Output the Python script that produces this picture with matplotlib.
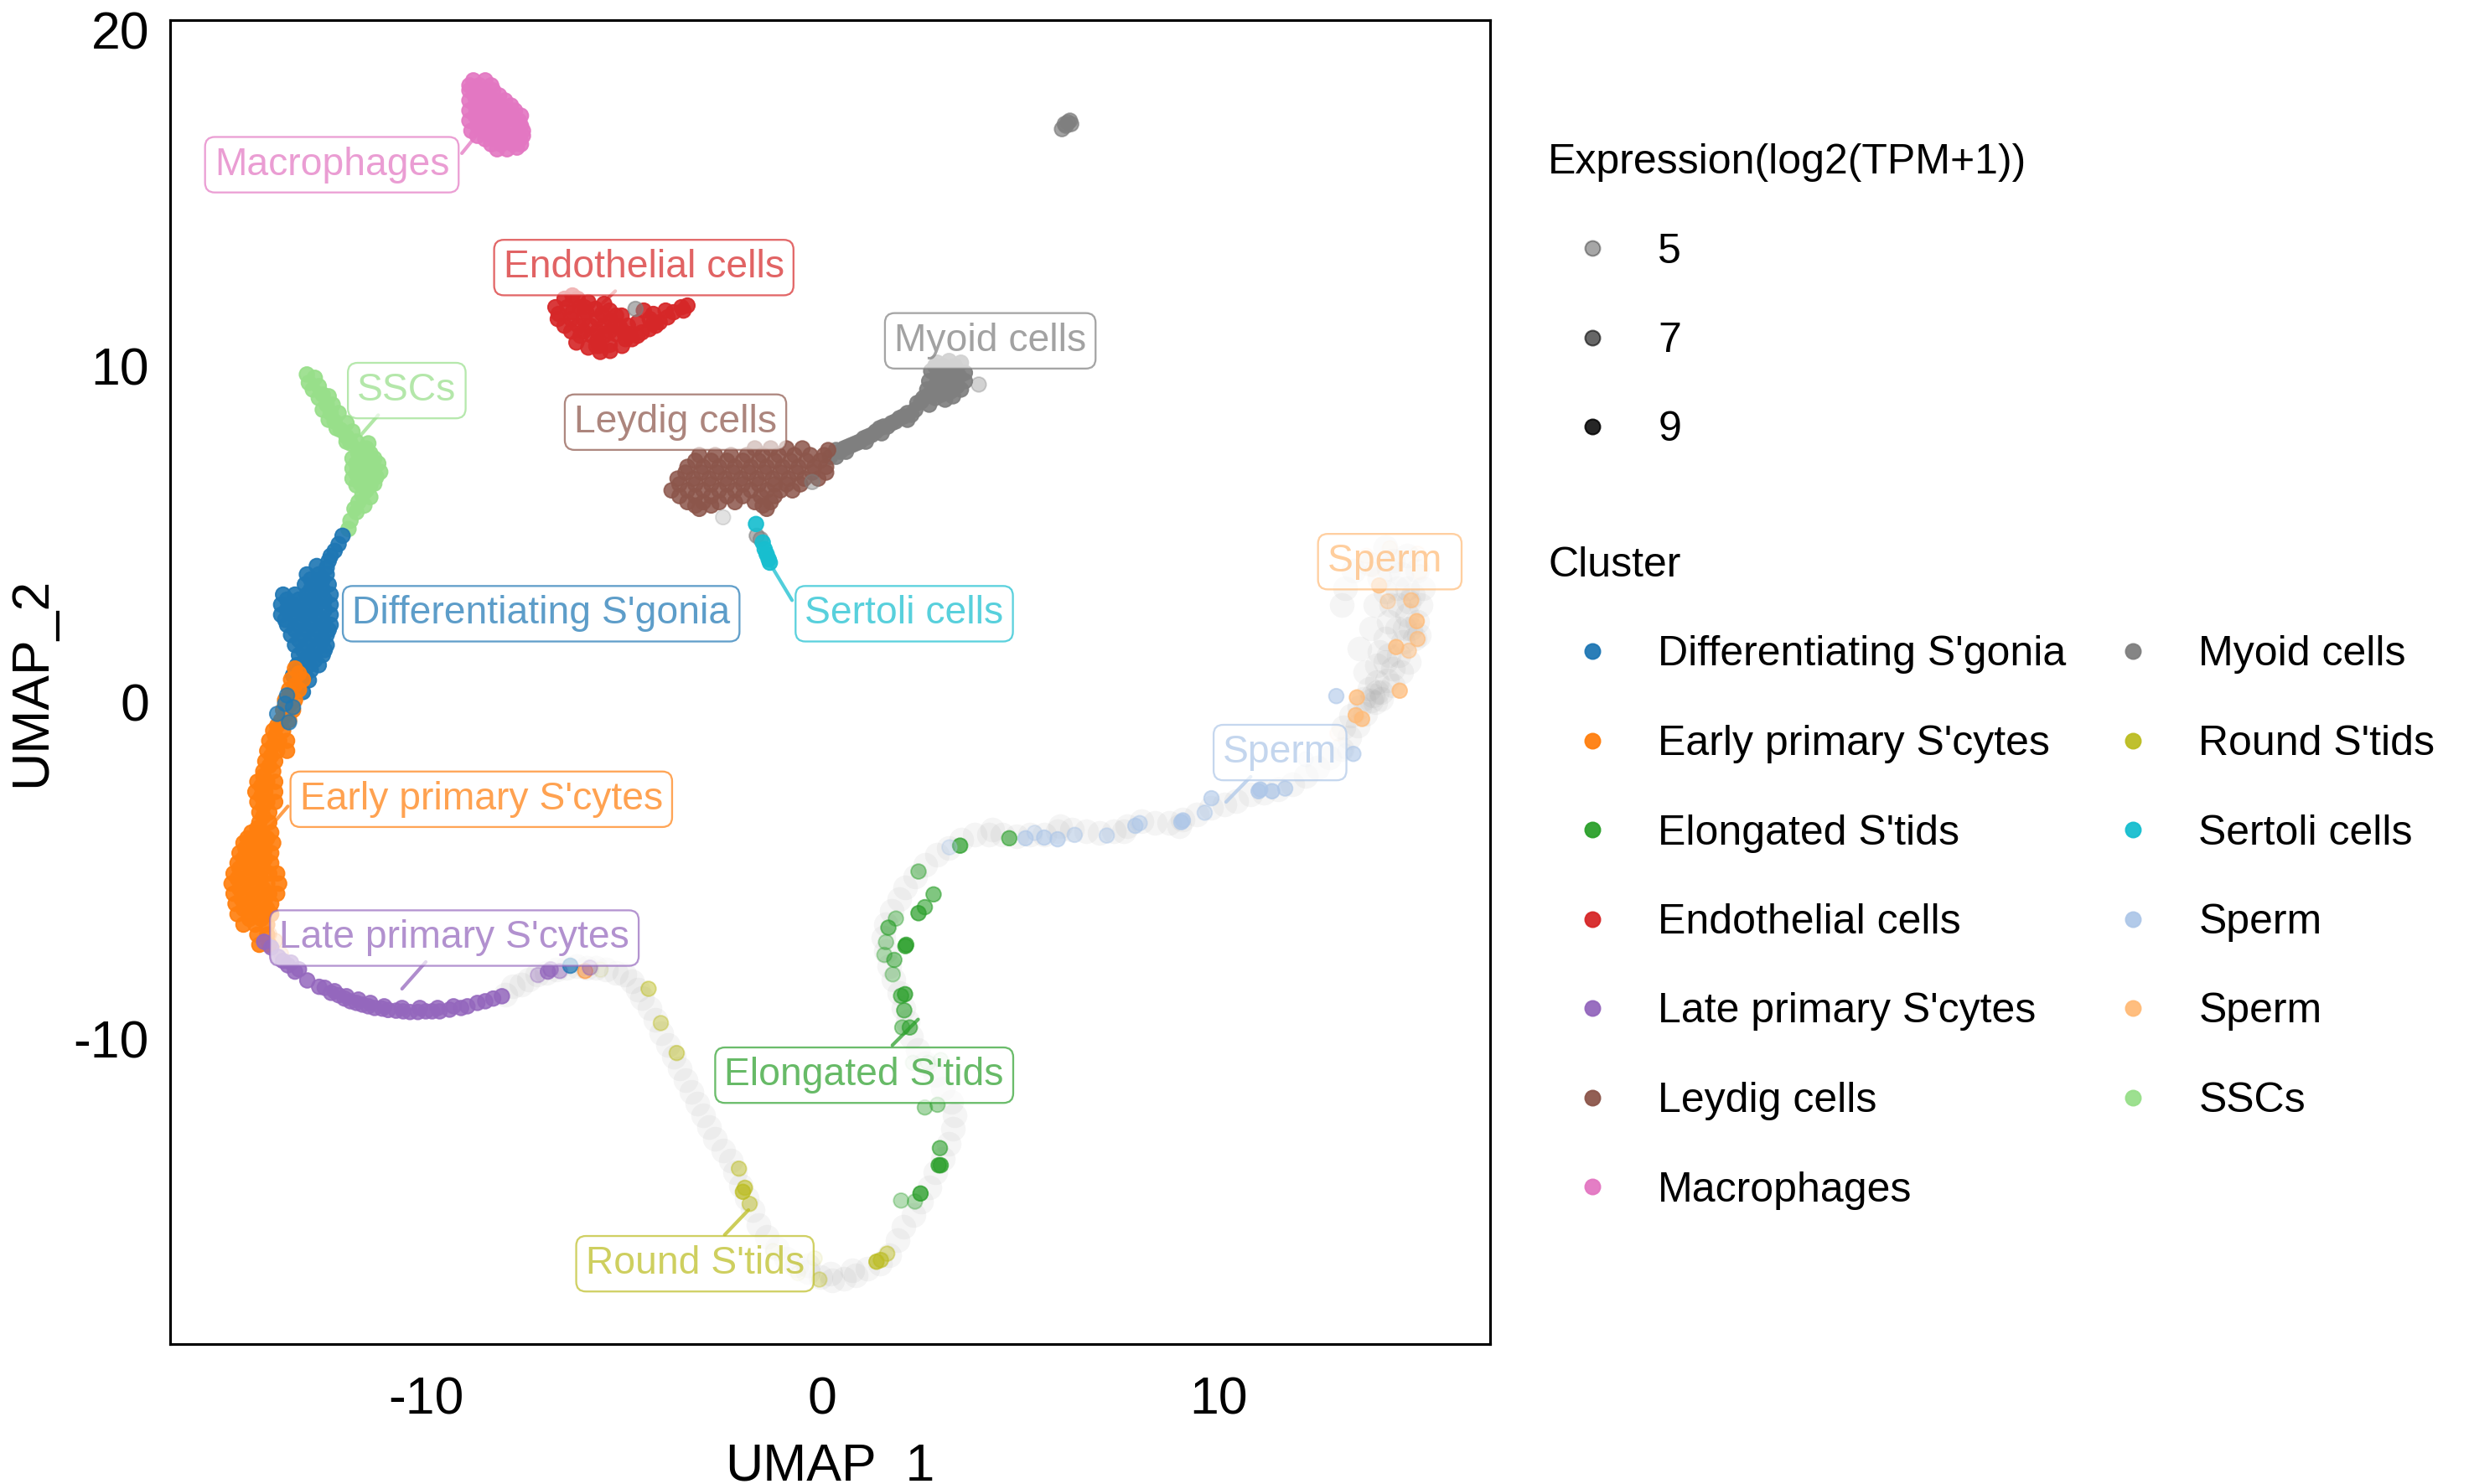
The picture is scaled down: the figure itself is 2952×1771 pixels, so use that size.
import matplotlib
matplotlib.use("Agg")
import matplotlib.pyplot as plt
from matplotlib.colors import to_rgba
from matplotlib.lines import Line2D

plt.rcParams['font.family'] = ['Liberation Sans', 'DejaVu Sans']
plt.rcParams['axes.unicode_minus'] = False

colors = {
    "Differentiating S'gonia": '#1f77b4', "Early primary S'cytes": '#ff7f0e',
    "Elongated S'tids": '#2ca02c', "Endothelial cells": '#d62728',
    "Late primary S'cytes": '#9467bd', "Leydig cells": '#8c564b',
    "Macrophages": '#e377c2', "Myoid cells": '#7f7f7f',
    "Round S'tids": '#bcbd22', "Sertoli cells": '#17becf',
    "SpermA": '#aec7e8', "SpermB": '#ffbb78', "SSCs": '#98df8a',
}
legend_names = ["Differentiating S'gonia", "Early primary S'cytes", "Elongated S'tids",
                "Endothelial cells", "Late primary S'cytes", "Leydig cells", "Macrophages",
                "Myoid cells", "Round S'tids", "Sertoli cells", "Sperm", "Sperm", "SSCs"]
legend_keys = list(colors.keys())
expr_levels = [5, 7, 9]

# Cells with very low expression: the pale trajectory
trail = [(-8.0,-8.7),(-7.8,-8.45),(-7.6,-8.4),(-7.4,-8.25),(-7.2,-8.1),(-6.95,-8.05),(-6.7,-7.95),(-6.45,-7.9),
 (-6.2,-7.85),(-5.95,-7.9),(-5.7,-7.9),(-5.45,-7.95),(-5.2,-8.05),(-5.0,-8.1),(-4.8,-8.3),(-4.65,-8.55),(-4.55,-8.8),
 (-4.35,-9.1),(-4.2,-9.45),(-4.05,-9.85),(-3.9,-10.2),(-3.75,-10.55),(-3.6,-10.9),(-3.45,-11.25),(-3.3,-11.6),
 (-3.15,-11.95),(-3.0,-12.3),(-2.85,-12.65),(-2.7,-13.0),(-2.5,-13.35),(-2.3,-13.65),(-2.2,-14.0),(-2.05,-14.4),
 (-1.9,-14.75),(-1.75,-15.1),(-1.6,-15.55),(-1.4,-15.9),(-1.15,-16.25),(-0.9,-16.55),(-0.65,-16.75),(-0.35,-16.95),
 (-0.05,-17.1),(0.25,-17.2),(0.55,-17.15),(0.85,-17.05),(1.15,-16.85),(1.45,-16.7),(1.7,-16.45),(1.9,-16.0),
 (2.05,-15.6),(2.3,-15.25),(2.5,-14.85),(2.7,-14.45),(2.85,-14.0),(3.05,-13.6),(3.2,-13.15),(3.3,-12.7),(3.35,-12.3),
 (3.25,-11.9),(3.05,-11.5),(2.85,-11.1),(2.6,-10.75),(2.4,-10.35),(2.25,-9.95),(2.15,-9.5),(2.05,-9.1),(1.95,-8.65),
 (1.8,-8.25),(1.7,-7.85),(1.6,-7.4),(1.55,-7.0),(1.6,-6.6),(1.75,-6.2),(1.95,-5.85),(2.1,-5.5),(2.35,-5.2),(2.6,-4.85),
 (2.9,-4.55),(3.2,-4.35),(3.5,-4.1),(3.85,-3.95),(4.2,-3.95),(4.55,-3.95),(4.9,-4.0),(5.25,-3.95),(5.6,-3.95),
 (5.95,-3.85),(6.3,-3.8),(6.65,-3.85),(7.0,-3.9),(7.35,-3.85),(7.7,-3.7),(8.05,-3.55),(8.4,-3.6),(8.75,-3.6),(9.1,-3.5),
 (9.45,-3.35),(9.8,-3.15),(10.15,-3.05),(10.45,-2.95),(10.8,-2.75),(11.15,-2.7),(11.5,-2.6),(11.85,-2.45),(12.2,-2.2),
 (12.5,-1.95),(12.8,-1.65),(13.1,-1.4),(13.3,-1.05),(13.5,-0.7),(13.7,-0.35),(13.95,0.0),(14.1,0.3),(14.25,0.65),
 (14.4,1.0),(14.55,1.4),(14.65,1.8),(14.7,2.2),(14.75,2.6),(14.8,3.0),(14.75,3.4),(14.6,3.8),(14.4,4.2),(14.2,4.6),
 (13.9,0.2),(14.1,0.1),(14.0,0.3),(13.85,0.05),(14.3,1.4),(14.2,1.9),(14.3,2.4),(14.35,2.9),(14.2,3.3),(14.05,3.7),
 (13.8,4.1),(15.0,2.4),(15.1,2.9),(15.15,3.4),(15.0,3.9),(14.75,4.35),(14.0,1.1),(13.7,0.9),(13.55,1.6),(13.1,2.9),
 (13.2,3.4),(13.4,3.9),(-0.35,-16.75),(0.2,-17.0),(0.75,-16.9),(9.0,-3.7),(7.6,-3.85),(6.0,-3.7),(4.3,-3.8),
 (14.4,0.5),(14.0,0.6),(14.2,1.2),(14.8,1.2),(14.95,1.9),(14.5,2.2),(14.55,2.9),(14.9,3.2),(14.5,3.4),(14.3,3.95),
 (13.95,2.9),(13.85,2.2),(14.05,1.5),(13.8,0.4),(13.65,0.1),(13.55,-0.15),(13.35,-0.4),(13.15,-0.75),(14.6,0.9),
 (14.85,2.2),(15.05,2.0)]

macrophages = [(-8.8,18.5),(-8.5,18.5),(-8.9,18.2),(-8.6,18.2),(-8.3,18.2),(-8.9,17.9),(-8.6,17.9),(-8.3,17.9),(-8.0,17.9),
 (-8.9,17.6),(-8.6,17.6),(-8.3,17.6),(-8.0,17.6),(-7.75,17.6),(-8.9,17.3),(-8.6,17.3),(-8.3,17.3),(-8.0,17.3),(-7.65,17.3),
 (-8.85,17.0),(-8.55,17.0),(-8.25,17.0),(-7.95,17.0),(-7.55,17.0),(-8.5,16.75),(-8.2,16.75),(-7.9,16.75),(-7.62,16.75),
 (-8.2,16.45),(-7.95,16.45),(-7.7,16.5),(-8.75,18.0),(-8.45,17.75),(-8.15,17.45),(-7.85,17.15),(-8.4,16.9),(-8.1,16.6),
 (-8.65,18.35),(-8.35,18.35),(-8.9,18.35),(-8.75,18.05),(-8.45,18.05),(-8.15,18.05),(-8.75,17.75),(-8.15,17.75),(-7.85,17.75),
 (-8.75,17.45),(-8.45,17.45),(-7.85,17.45),(-7.6,17.45),(-8.7,17.15),(-8.4,17.15),(-8.1,17.15),(-7.6,17.15),(-8.7,16.85),
 (-8.05,16.85),(-7.75,16.85),(-7.55,16.85),(-8.35,16.6),(-7.8,16.6),(-7.6,16.6)]

endothelial = [(-6.5,12.0),(-6.17,12.0),(-6.73,11.75),(-6.43,11.75),(-6.12,11.75),(-5.72,11.7),(-5.36,11.65),(-6.67,11.4),
 (-6.33,11.4),(-6.02,11.4),(-5.67,11.4),(-5.32,11.35),(-5.06,11.5),(-6.33,11.03),(-6.02,11.03),(-5.67,11.03),(-5.36,11.03),
 (-5.67,10.75),(-5.36,10.63),(-5.62,10.6),(-4.96,10.8),(-4.66,10.9),(-4.36,11.1),(-4.1,11.3),(-4.26,11.55),(-4.5,11.65),
 (-3.9,11.45),(-3.55,11.75),(-3.4,11.8),(-3.5,11.65),(-6.0,11.75),(-5.5,11.2),(-4.2,11.2),(-5.1,11.15),(-4.8,10.8),
 (-6.65,11.55),(-6.3,11.6),(-5.95,11.6),(-5.55,11.55),(-5.2,11.5),(-6.5,11.2),(-6.15,11.2),(-5.85,11.2),(-5.2,11.2),(-6.1,10.9),
 (-5.8,10.9),(-5.5,10.9),(-5.2,10.95),(-5.7,10.6),(-4.85,10.95),(-4.55,11.0),(-4.25,11.3),(-4.35,11.4),(-4.65,11.3),(-4.9,11.2),
 (-5.0,11.0),(-3.75,11.6),(-3.95,11.65),(-5.9,11.9),(-5.5,11.85),(-6.3,12.1),(-5.6,10.42),(-5.35,10.45),(-5.9,10.55),(-5.05,10.6),(-6.2,10.7)]

sscs = [(-13.0,9.75),(-12.8,9.65),(-12.7,9.4),(-12.6,9.15),(-12.5,8.85),(-12.4,8.6),(-12.3,8.35),(-12.15,8.1),(-12.0,7.9),
 (-11.9,7.7),(-11.7,7.5),(-11.5,7.55),(-11.85,7.25),(-11.6,7.25),(-11.3,7.25),(-11.85,6.95),(-11.6,6.95),(-11.3,6.95),
 (-11.25,6.7),(-11.85,6.65),(-11.55,6.65),(-11.3,6.5),(-11.75,6.45),(-11.5,6.3),(-11.7,5.95),(-11.75,5.65),(-11.9,5.4),(-11.95,5.15),
 (-12.95,9.5),(-12.85,9.3),(-12.45,9.1),(-12.7,9.05),(-12.35,8.85),(-12.6,8.7),(-12.2,8.6),(-12.45,8.4),(-12.0,8.3),(-12.25,8.15),
 (-11.85,8.05),(-12.0,7.75),(-11.75,7.75),(-11.45,7.7),(-11.7,7.4),(-11.4,7.4),(-11.2,7.1),(-11.45,7.1),(-11.75,7.1),(-11.45,6.8),
 (-11.75,6.8),(-11.15,6.85),(-11.65,6.5),(-11.4,6.45),(-11.6,6.15),(-11.4,6.1),(-11.8,5.75),(-11.55,5.85)]

diff_sgonia = [(-12.1,4.95),(-12.3,4.5),(-12.45,4.2),(-13.0,3.8),(-12.7,3.8),(-12.5,3.8),(-13.05,3.5),(-12.75,3.5),(-12.45,3.5),
 (-13.6,3.2),(-13.3,3.2),(-13.0,3.2),(-12.7,3.2),(-12.4,3.2),(-13.65,2.9),(-13.35,2.9),(-13.05,2.9),(-12.75,2.9),(-12.4,2.9),
 (-13.65,2.6),(-13.35,2.6),(-13.05,2.6),(-12.75,2.6),(-12.4,2.6),(-13.5,2.3),(-13.2,2.3),(-12.9,2.3),(-12.6,2.3),(-12.4,2.3),
 (-13.4,2.0),(-13.1,2.0),(-12.8,2.0),(-12.5,2.0),(-13.3,1.7),(-13.0,1.7),(-12.7,1.7),(-12.5,1.7),(-13.2,1.4),(-12.9,1.4),(-12.6,1.4),
 (-13.25,1.1),(-12.95,1.1),(-12.7,1.1),(-13.35,0.8),(-13.05,0.8),(-13.3,0.5),(-13.1,0.3),
 (-12.9,3.65),(-12.6,3.65),(-12.9,3.35),(-12.6,3.35),(-13.5,3.05),(-13.2,3.05),(-12.85,3.05),(-12.55,3.05),(-13.5,2.75),(-13.2,2.75),
 (-12.9,2.75),(-12.55,2.75),(-13.55,2.45),(-13.2,2.45),(-12.9,2.45),(-12.6,2.45),(-13.3,2.15),(-13.0,2.15),(-12.7,2.15),(-12.45,2.15),
 (-13.2,1.85),(-12.9,1.85),(-12.6,1.85),(-13.1,1.55),(-12.8,1.55),(-12.55,1.55),(-13.05,1.25),(-12.8,1.25),(-13.2,0.95),(-12.9,0.95),
 (-13.2,0.65),(-12.95,0.65),(-12.2,4.7),(-12.4,4.35),(-12.5,4.0),(-12.75,4.05)]
diff_top = [(-13.5,0.2),(-13.55,-0.05),(-13.35,-0.15),(-13.75,-0.35),(-13.45,-0.6)]

early = [(-13.3,1.0),(-13.1,0.67),(-13.4,0.67),(-13.2,0.37),(-13.45,0.37),(-13.3,0.06),(-13.55,0.06),(-13.35,-0.24),(-13.6,-0.24),
 (-13.65,-0.54),(-13.45,-0.54),(-13.85,-0.85),(-13.6,-0.85),(-13.95,-1.15),(-13.7,-1.15),(-13.5,-1.15),(-14.0,-1.45),(-13.75,-1.45),
 (-13.5,-1.45),(-14.05,-1.76),(-13.8,-1.76),(-14.1,-2.06),(-13.85,-2.06),(-14.25,-2.37),(-14.0,-2.37),(-13.8,-2.37),(-14.3,-2.67),
 (-14.05,-2.67),(-13.8,-2.67),(-14.25,-2.97),(-14.0,-2.97),(-13.8,-2.97),(-14.2,-3.28),(-13.95,-3.28),(-14.2,-3.58),(-13.95,-3.58),
 (-14.4,-3.88),(-14.15,-3.88),(-13.9,-3.88),(-14.6,-4.19),(-14.35,-4.19),(-14.1,-4.19),(-13.85,-4.19),(-14.7,-4.49),(-14.4,-4.49),
 (-14.15,-4.49),(-13.9,-4.49),(-14.75,-4.79),(-14.5,-4.79),(-14.2,-4.79),(-13.9,-4.79),(-14.85,-5.1),(-14.55,-5.1),(-14.25,-5.1),
 (-13.95,-5.1),(-13.75,-5.1),(-14.9,-5.4),(-14.6,-5.4),(-14.3,-5.4),(-14.0,-5.4),(-13.7,-5.4),(-14.85,-5.7),(-14.55,-5.7),(-14.25,-5.7),
 (-13.95,-5.7),(-13.75,-5.7),(-14.8,-6.0),(-14.5,-6.0),(-14.2,-6.0),(-13.9,-6.0),(-14.75,-6.31),(-14.45,-6.31),(-14.15,-6.31),(-13.9,-6.31),
 (-14.6,-6.62),(-14.3,-6.62),(-14.0,-6.62),(-14.25,-6.92),(-14.0,-6.92),(-14.2,-7.22),(-13.95,-7.22),
 (-13.2,0.85),(-13.3,0.5),(-13.4,0.2),(-13.45,-0.1),(-13.55,-0.4),(-13.75,-0.7),(-13.8,-1.0),(-13.85,-1.3),(-13.9,-1.6),(-13.95,-1.9),
 (-14.1,-2.2),(-14.15,-2.5),(-14.15,-2.8),(-14.1,-3.1),(-14.1,-3.4),(-14.25,-3.75),(-14.5,-4.05),(-14.25,-4.05),(-14.0,-4.05),(-14.55,-4.35),
 (-14.3,-4.35),(-14.05,-4.35),(-14.6,-4.65),(-14.35,-4.65),(-14.05,-4.65),(-14.7,-4.95),(-14.4,-4.95),(-14.1,-4.95),(-14.75,-5.25),
 (-14.45,-5.25),(-14.15,-5.25),(-14.7,-5.55),(-14.4,-5.55),(-14.1,-5.55),(-14.65,-5.85),(-14.35,-5.85),(-14.05,-5.85),(-14.6,-6.15),
 (-14.3,-6.15),(-14.0,-6.15),(-14.45,-6.45),(-14.15,-6.45)]
early_faint = [(-13.95,-6.9,5),(-13.8,-7.1,5),(-13.65,-7.5,4),(-5.98,-8.0,6)]

late = [(-14.08,-7.13),(-13.9,-7.3),(-13.72,-7.58),(-13.6,-7.7),(-13.48,-7.83),(-13.3,-8.02),(-12.99,-8.28),(-12.69,-8.47),(-12.55,-8.5),
 (-12.39,-8.65),(-12.2,-8.72),(-12.05,-8.82),(-11.9,-8.9),(-11.75,-8.95),(-11.6,-9.0),(-11.45,-9.05),(-11.29,-9.1),(-11.1,-9.12),(-10.95,-9.16),
 (-10.75,-9.18),(-10.57,-9.2),(-10.4,-9.22),(-10.2,-9.22),(-10.0,-9.2),(-9.84,-9.2),(-9.65,-9.2),(-9.4,-9.15),(-9.11,-9.1),(-8.95,-9.05),(-8.7,-8.95),
 (-8.5,-8.9),(-8.3,-8.82),(-8.08,-8.75),(-13.4,-7.75),(-13.2,-7.95),(-12.3,-8.6),(-12.0,-8.75),(-11.7,-8.85),(-11.4,-8.95),(-11.05,-9.05),(-10.6,-9.1),
 (-10.15,-9.1),(-9.7,-9.1),(-9.3,-9.05)]
late_sparse = [(-7.17,-8.12,5),(-6.92,-8.02,8),(-6.85,-7.95,7),(-6.62,-8.0,6),(-5.86,-7.9,6)]
blue_sparse = [(-6.36,-7.83,8)]

leydig = [(-1.7,7.55),(-1.3,7.55),(-0.9,7.55),(-0.5,7.55),(-3.1,7.35),(-2.7,7.35),(-2.3,7.35),(-1.9,7.35),(-1.5,7.35),(-1.1,7.35),(-0.7,7.35),
 (-0.3,7.35),(0.05,7.35),(-3.4,7.0),(-3.0,7.0),(-2.6,7.0),(-2.2,7.0),(-1.8,7.0),(-1.4,7.0),(-1.0,7.0),(-0.6,7.0),(-0.2,7.0),(0.1,7.0),
 (-3.65,6.65),(-3.25,6.65),(-2.85,6.65),(-2.45,6.65),(-2.05,6.65),(-1.65,6.65),(-1.25,6.65),(-0.85,6.65),(-0.45,6.65),(-0.1,6.65),
 (-3.8,6.3),(-3.4,6.3),(-3.0,6.3),(-2.6,6.3),(-2.2,6.3),(-1.8,6.3),(-1.4,6.3),(-1.05,6.3),(-0.75,6.3),(-3.4,5.95),(-3.0,5.95),(-2.6,5.95),
 (-2.2,5.95),(-1.7,5.95),(-1.3,5.95),(-3.1,5.75),(-1.4,5.75),(0.15,7.5),
 (-3.2,7.18),(-2.8,7.18),(-2.4,7.18),(-2.0,7.18),(-1.6,7.18),(-1.2,7.18),(-0.8,7.18),(-0.4,7.18),(-0.05,7.18),(-3.45,6.83),(-3.05,6.83),
 (-2.65,6.83),(-2.25,6.83),(-1.85,6.83),(-1.45,6.83),(-1.05,6.83),(-0.65,6.83),(-0.25,6.83),(0.1,6.83),(-3.6,6.48),(-3.2,6.48),(-2.8,6.48),
 (-2.4,6.48),(-2.0,6.48),(-1.6,6.48),(-1.2,6.48),(-0.9,6.48),(-0.55,6.48),(-3.6,6.13),(-3.2,6.13),(-2.8,6.13),(-2.4,6.13),(-2.0,6.13),
 (-1.55,6.13),(-1.2,6.13),(-3.2,5.85),(-2.8,5.85),(-1.5,5.85)]

myoid = [(2.9,10.1),(3.2,10.15),(3.5,10.1),(2.75,9.85),(3.05,9.85),(3.35,9.85),(3.6,9.8),(2.7,9.55),(3.0,9.55),(3.3,9.55),(3.6,9.55),
 (2.65,9.3),(2.95,9.3),(3.25,9.25),(3.5,9.3),(2.55,9.05),(2.85,9.05),(3.1,9.0),(2.4,8.9),(2.7,8.85),(2.15,8.6),(2.35,8.7),(1.95,8.45),
 (2.15,8.4),(1.75,8.3),(1.55,8.2),(1.35,8.05),(1.15,7.9),(0.95,7.75),(0.75,7.65),(0.55,7.55),(0.35,7.5),(0.2,7.3),(0.35,7.3),
 (2.9,9.7),(3.2,9.7),(3.45,9.7),(2.85,9.4),(3.1,9.4),(3.4,9.4),(2.7,9.15),(3.0,9.15),(3.3,9.1),(3.05,10.0),(3.35,10.0),(2.85,10.0),(2.5,8.95),
 (2.25,8.55),(2.05,8.5),(1.85,8.35),(1.65,8.2),(1.45,8.15),(1.25,7.95),(1.05,7.85),(0.85,7.7),(0.65,7.6),(0.45,7.45),(1.5,8.0),(1.1,7.75),(0.6,7.45)]
myoid_sparse = [(3.95,9.45,5),(-0.25,6.55,6),(-4.71,11.7,7),(-1.65,4.95,7),(-1.55,4.85,7),(-2.5,5.5,4)]
myoid_far = [(6.05,17.05),(6.15,17.15),(6.2,17.25),(6.25,17.3),(6.12,17.2),(6.28,17.2)]

sertoli = [(-1.67,5.3),(-1.5,4.75),(-1.45,4.55),(-1.4,4.4),(-1.35,4.25),(-1.32,4.15)]

round_stids = [(-4.38,-8.53,6),(-4.07,-9.55,5.5),(-3.67,-10.44,6),(-2.1,-13.88,6),(-1.95,-14.45,7),(-2.0,-14.57,8),(-1.83,-14.93,6),
 (-1.24,-16.33,3),(-0.19,-16.55,3),(-0.07,-17.18,5),(-0.61,-16.99,3),(1.64,-16.41,6),(1.37,-16.65,8),(1.48,-16.6,7),(-5.59,-7.96,3)]

elongated = [(3.48,-4.27,8),(4.72,-4.05,7),(2.43,-5.04,6),(2.81,-5.72,7),(2.59,-6.1,7),(2.43,-6.28,8),(1.86,-6.44,5.5),(1.67,-6.71,7),
 (1.61,-7.14,5),(1.57,-7.52,5),(1.82,-7.67,6.5),(2.1,-7.26,8),(2.12,-7.22,8),(1.78,-8.1,5),(2.09,-8.69,8),(1.99,-8.74,7),(2.07,-9.17,7),
 (2.02,-9.68,6),(2.21,-9.68,7),(2.29,-10.73,3),(2.67,-10.73,3),(2.99,-10.65,3),(2.59,-12.06,5.5),(2.91,-11.98,5.5),(2.97,-13.27,7),
 (2.99,-13.78,8),(2.94,-13.78,8),(2.48,-14.62,8.5),(2.34,-14.86,5),(1.99,-14.83,5)]

sperm_blue = [(3.21,-4.32,5),(5.13,-4.05,7),(5.36,-3.89,5),(5.6,-4.03,7),(5.94,-4.08,7),(6.37,-3.95,6),(7.18,-3.97,6),(7.9,-3.68,7),(8.01,-3.6,6),
 (9.06,-3.57,8),(9.1,-3.52,8),(9.65,-3.29,6),(9.82,-2.86,7),(11.01,-2.65,8),(11.05,-2.6,8),(11.35,-2.65,8),(11.68,-2.57,7),(13.4,-1.54,7),
 (13.19,-1.46,3),(12.2,-1.7,3),(12.97,0.18,7)]

sperm_orange = [(13.49,0.14,8),(14.57,0.34,8),(13.46,-0.39,8),(13.62,-0.5,8),(13.0,-0.93,3),(14.48,1.64,8),(14.8,1.53,6),(15.02,1.88,7),
 (15.0,2.41,8),(14.86,3.03,7),(14.27,3.0,5),(14.05,3.47,8),(13.73,4.35,3),(14.32,4.58,3),(15.02,4.42,3),(15.07,3.87,3),(13.89,3.95,3)]

labels = [("Macrophages", -12.37, 15.99, "Macrophages"), ("Endothelial cells", -4.5, 12.93, "Endothelial cells"),
          ("SSCs", -10.48, 9.27, "SSCs"), ("Myoid cells", 4.24, 10.75, "Myoid cells"), ("Leydig cells", -3.7, 8.33, "Leydig cells"),
          ("Differentiating S'gonia", -7.09, 2.63, "Differentiating S'gonia"), ("Sertoli cells", 2.07, 2.63, "Sertoli cells"),
          ("Sperm ", 14.32, 4.18, "SpermB"), ("Sperm", 11.55, -1.5, "SpermA"), ("Early primary S'cytes", -8.6, -2.89, "Early primary S'cytes"),
          ("Late primary S'cytes", -9.28, -7.02, "Late primary S'cytes"), ("Elongated S'tids", 1.06, -11.1, "Elongated S'tids"),
          ("Round S'tids", -3.21, -16.71, "Round S'tids")]
leaders = [("Macrophages", (-9.09, -8.74), (16.33, 16.84)), ("Endothelial cells", (-5.22, -5.53), (12.23, 11.88)),
           ("SSCs", (-11.2, -11.65), (8.54, 7.93)), ("Sertoli cells", (-0.76, -1.28), (3.03, 4.05)),
           ("Early primary S'cytes", (-13.48, -13.96), (-3.1, -3.76)), ("Late primary S'cytes", (-10.0, -10.6), (-7.73, -8.53)),
           ("Elongated S'tids", (1.77, 2.42), (-10.21, -9.44)), ("Round S'tids", (-2.46, -1.86), (-15.85, -15.11)),
           ("SpermA", (10.81, 10.19), (-2.22, -2.97))]


def alpha_of(e):
    return max(0.08, min(0.95, 0.35 + 0.125 * (e - 5)))


fig = plt.figure(figsize=(2952 / 300, 1771 / 300), dpi=300)
ax = fig.add_axes([203 / 2952, 1 - 1604 / 1771, (1778 - 203) / 2952, (1604 - 24.5) / 1771])
S, LW = 18, 0.45


def draw(pts, key, e=None, zorder=3):
    xs = [p[0] for p in pts]
    ys = [p[1] for p in pts]
    vals = [e if e is not None else p[2] for p in pts]
    rgba = [to_rgba(colors[key], alpha_of(v)) for v in vals]
    ax.scatter(xs, ys, s=S, c=rgba, edgecolors=rgba, linewidths=LW, zorder=zorder)


ax.scatter([p[0] for p in trail], [p[1] for p in trail], s=50, color='#7f7f7f', alpha=0.075, linewidths=0, zorder=2)

draw(macrophages, "Macrophages", 9.5)
draw(endothelial, "Endothelial cells", 9.5)
draw(sscs, "SSCs", 9.5)
draw(diff_sgonia, "Differentiating S'gonia", 9.5)
draw(early, "Early primary S'cytes", 9.5)
draw(diff_top, "Differentiating S'gonia", 8)
draw(early_faint, "Early primary S'cytes")
draw(late, "Late primary S'cytes", 9)
draw(late_sparse, "Late primary S'cytes")
draw(blue_sparse, "Differentiating S'gonia")
draw(myoid, "Myoid cells", 9.5)
draw(myoid_far, "Myoid cells", 8)
draw(leydig, "Leydig cells", 9)
draw(myoid_sparse, "Myoid cells")
draw(sertoli, "Sertoli cells", 9.5)
draw(round_stids, "Round S'tids")
draw(elongated, "Elongated S'tids")
draw(sperm_blue, "SpermA")
draw(sperm_orange, "SpermB")

for key, xs, ys in leaders:
    ax.plot(xs, ys, color=colors[key], alpha=0.75, lw=1.0, solid_capstyle='round', zorder=4)

for text, x, y, key in labels:
    ax.text(x, y, text, fontsize=11.1, ha='center', va='center', color=to_rgba(colors[key], 0.72), zorder=6,
            bbox=dict(boxstyle='round,pad=0.24,rounding_size=0.25', fc=(1, 1, 1, 0.65),
                      ec=to_rgba(colors[key], 0.7), lw=0.55))

ax.set_xlim(-16.45, 16.85)
ax.set_ylim(-19.1, 20.28)
ax.set_xticks([-10, 0, 10])
ax.set_yticks([-10, 0, 10, 20])
ax.tick_params(length=0, labelsize=15, colors='black')
ax.tick_params(axis='x', pad=9)
ax.tick_params(axis='y', pad=6)
for sp in ax.spines.values():
    sp.set_linewidth(0.75)
ax.set_xlabel('UMAP_1', fontsize=15)
ax.set_ylabel('UMAP_2', fontsize=15)
ax.xaxis.set_label_coords(0.5, -0.074)
ax.yaxis.set_label_coords(-0.086, 0.5)

h1 = [Line2D([], [], ls='none', marker='o', ms=4.3, mew=0.5, mfc=(0, 0, 0, alpha_of(e)), mec=(0, 0, 0, alpha_of(e))) for e in expr_levels]
leg1 = fig.legend(h1, [str(e) for e in expr_levels], title='Expression(log2(TPM+1))', loc='upper left',
                  bbox_to_anchor=(1847 / 2952, 1 - 171 / 1771), frameon=False, fontsize=12, title_fontsize=12,
                  borderpad=0, borderaxespad=0, handlelength=2.1, handletextpad=0.525, labelspacing=1.21,
                  alignment='left')
h2 = [Line2D([], [], ls='none', marker='o', ms=4.3, mew=0.5, mfc=colors[k], mec=colors[k], alpha=0.95) for k in legend_keys]
leg2 = fig.legend(h2, legend_names, title='Cluster', loc='upper left', ncol=2,
                  bbox_to_anchor=(1847 / 2952, 1 - 652 / 1771), frameon=False, fontsize=12, title_fontsize=12,
                  borderpad=0, borderaxespad=0, handlelength=2.1, handletextpad=0.525, labelspacing=1.21,
                  columnspacing=0.53, alignment='left')

fig.savefig('out.png', dpi=300, facecolor='white')
